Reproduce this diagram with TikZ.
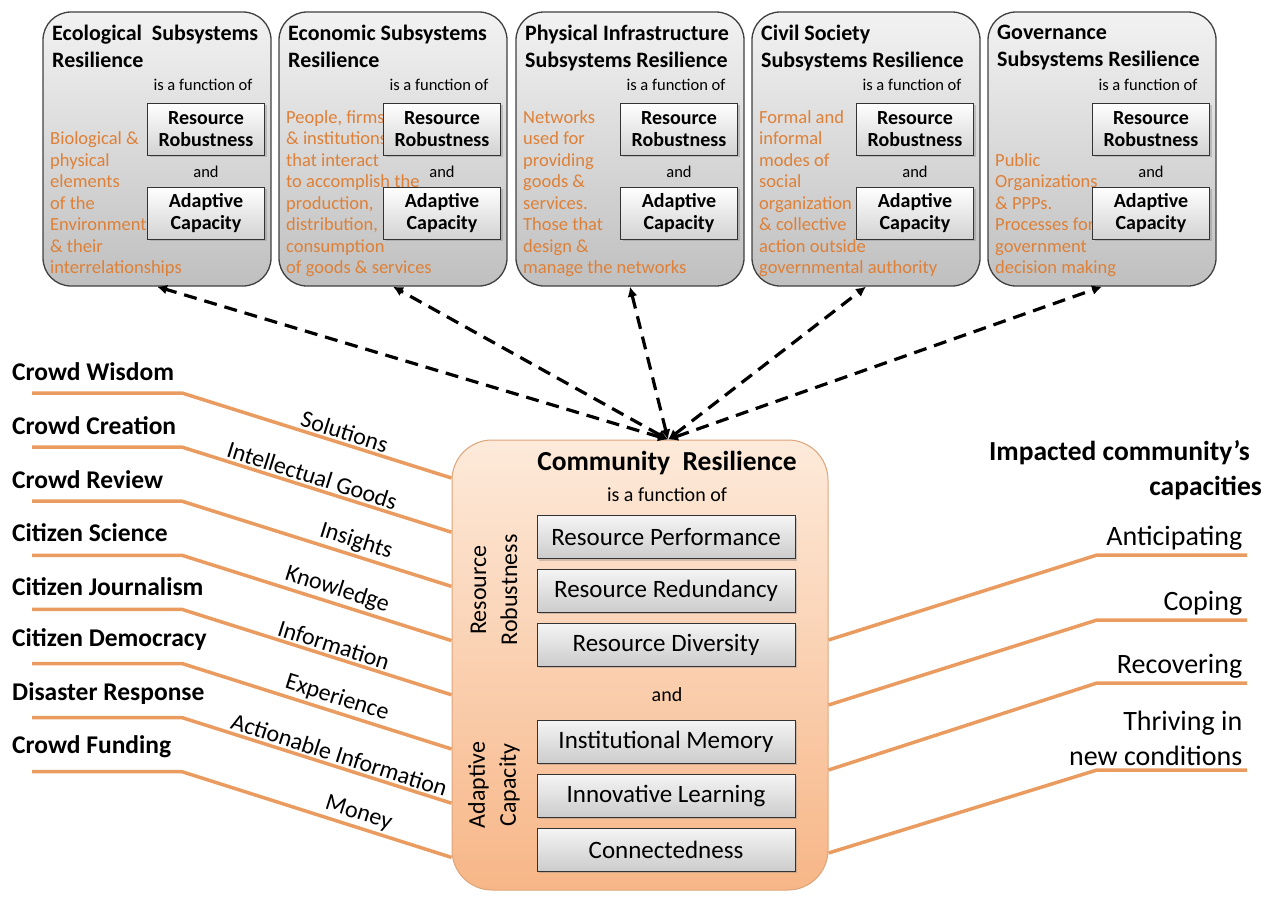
\documentclass[tikz,border=0pt]{standalone}
\usepackage{fontspec}
\setmainfont{Carlito}
\usetikzlibrary{arrows.meta,shadows}
\definecolor{flowline}{RGB}{234,156,96}
\definecolor{desctext}{RGB}{222,128,55}
\definecolor{peach}{RGB}{247,182,135}
\definecolor{peachlight}{RGB}{253,234,218}

\begin{document}
\begin{tikzpicture}[x=1pt,y=-1pt]
        \tikzstyle{subsys}=[draw=black!75,line width=1.3pt,rounded corners=28pt,top color=gray!10,bottom color=gray!50,minimum width=228pt,minimum height=274pt,inner sep=0pt]
        \tikzstyle{factor}=[draw=black!80,line width=1pt,top color=white,bottom color=gray!35,minimum width=117pt,minimum height=52pt,align=center,inner sep=0pt,font=\fontsize{20}{22}\selectfont\bfseries,drop shadow={opacity=0.35,shadow xshift=2pt,shadow yshift=-2pt}]
        \tikzstyle{item}=[draw=black!80,line width=1pt,top color=gray!8,bottom color=gray!40,minimum width=258pt,minimum height=43pt,inner sep=0pt,font=\fontsize{25}{28}\selectfont,drop shadow={opacity=0.35,shadow xshift=2pt,shadow yshift=-2pt}]
        \tikzstyle{link}=[{Latex[length=10pt,width=10pt]}-{Latex[length=10pt,width=10pt]},line width=3.2pt,dash pattern=on 13pt off 8pt]
        \tikzstyle{flow}=[flowline,line width=3.5pt,line join=round]
        \useasboundingbox (0,0) rectangle (1280,899);

        % subsystem boxes
        \foreach \n/\x/\title/\desc in {
                eco/43/{Ecological\ \ Subsystems\\Resilience}/{Biological \&\\physical\\elements\\of the\\Environment\\\& their\\interrelationships},
                econ/279/{Economic Subsystems\\Resilience}/{People, firms\\\& institutions\\that interact\\to accomplish the\\production,\\distribution, \&\\consumption\\of goods \& services},
                phys/516/{Physical Infrastructure\\Subsystems Resilience}/{Networks\\used for\\providing\\goods \&\\services.\\Those that\\design \&\\manage the networks},
                civil/752/{Civil Society\\Subsystems Resilience}/{Formal and\\informal\\modes of\\social\\organization\\\& collective\\action outside\\governmental authority},
                gov/988/{Governance\\Subsystems Resilience}/{Public\\Organizations\\\& PPPs.\\Processes for\\government\\decision making}}
        {
                \node[subsys] (\n) at (\x+114,149) {};
                \node[anchor=north west,align=left,inner sep=0pt,font=\fontsize{22}{27}\selectfont\bfseries] (\n-t) at (\x+9,25) {\title};
                \node[anchor=south west,align=left,inner sep=0pt,text=desctext,font=\fontsize{18.5}{21.5}\selectfont] (\n-d) at (\x+7,277) {\desc};
                \node[font=\fontsize{16.5}{18}\selectfont] (\n-f) at (\x+160,85) {is a function of};
                \node[factor] (\n-rr) at (\x+163,129) {Resource\\Robustness};
                \node[font=\fontsize{16.5}{18}\selectfont] (\n-and) at (\x+163,172) {and};
                \node[factor] (\n-ac) at (\x+163,213) {Adaptive\\Capacity};
        }

        % community box
        \node[draw=peach!90!black,line width=1pt,rounded corners=40pt,top color=peachlight,bottom color=peach,minimum width=376pt,minimum height=450pt] (comm) at (640,665) {};
        \node[font=\fontsize{27.5}{30}\selectfont\bfseries] (comm-t) at (667,463) {Community\ \ Resilience};
        \node[font=\fontsize{20}{24}\selectfont] (comm-f) at (667,495) {is a function of};
        \foreach \n/\y/\t in {perf/537/Resource Performance, red/590.5/Resource Redundancy, div/644.5/Resource Diversity, mem/741.5/Institutional Memory, learn/795.5/Innovative Learning, conn/849.5/Connectedness}
                \node[item] (\n) at (666,\y) {\t};
        \node[font=\fontsize{20}{24}\selectfont] (comm-and) at (667,695) {and};
        \node[rotate=90,align=center,font=\fontsize{24}{31}\selectfont] (rr-lbl) at (494,590) {Resource\\Robustness};
        \node[rotate=90,align=center,font=\fontsize{24}{31}\selectfont] (ac-lbl) at (494,785) {Adaptive\\Capacity};

        % dashed links
        \coordinate (hub) at ([xshift=28pt]comm.north);
        \foreach \n in {eco,econ,phys,civil,gov}
                \draw[link] (hub) -- (\n.south);

        % crowd sources
        \foreach \i/\src/\out/\p in {0/Crowd Wisdom/Solutions/0.59, 1/Crowd Creation/Intellectual Goods/0.47, 2/Crowd Review/Insights/0.63, 3/Citizen Science/Knowledge/0.56, 4/Citizen Journalism/Information/0.55, 5/Citizen Democracy/Experience/0.56, 6/Disaster Response/Actionable Information/0.57, 7/Crowd Funding/Money/0.64}
        {
                \node[anchor=west,inner sep=0pt,font=\fontsize{25.5}{28}\selectfont\bfseries] (src-\i) at (12,372+53.6*\i) {\src};
                \coordinate (L\i) at (32,393+54.1*\i);
                \draw[flow] (L\i) -- ++(150,0) -- (comm.west |- 0,{478+54.2*\i}) node[pos=\p,sloped,above,inner sep=2pt,text=black,font=\fontsize{24}{28}\selectfont] (out-\i) {\out};
        }

        % capacities
        \node[anchor=north east,align=right,inner sep=0pt,font=\fontsize{27.5}{35}\selectfont\bfseries] (impact) at (1262,440) {Impacted community's\hspace*{12pt}\\capacities};
        \foreach \i/\yb/\yh/\cap in {0/640/555/Anticipating, 1/705/620/Coping, 2/770/683/Recovering, 3/853/770/{Thriving in\\new conditions}}
        {
                \coordinate (R\i) at (comm.east |- 0,\yb);
                \draw[flow] (R\i) -- (1097,\yh) -- (1247,\yh) node[anchor=south east,align=right,inner sep=3pt,text=black,font=\fontsize{28}{35}\selectfont] (cap-\i) {\cap};
        }
\end{tikzpicture}
\end{document}
